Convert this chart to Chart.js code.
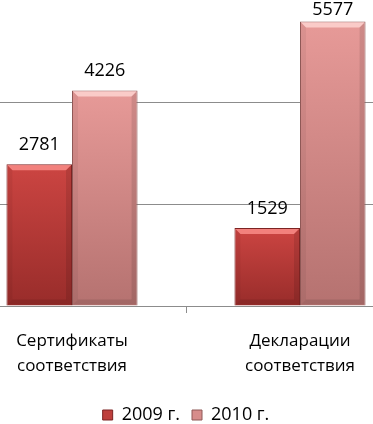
<!DOCTYPE html>
<html>
<head>
<meta charset="utf-8">
<script src="https://cdn.jsdelivr.net/npm/chart.js@4"></script>
<style>
  html, body { margin: 0; padding: 0; background: #fff; overflow: hidden; }
  #wrap { position: absolute; left: -42px; top: 0; width: 456px; height: 424px; }
</style>
</head>
<body>
<div id="wrap"><canvas id="chart-canvas"></canvas></div>
<script>
(function () {
  "use strict";

  var categories = [["Сертификаты", "соответствия"], ["Декларации", "соответствия"]];
  var seriesNames = ["2009 г.", "2010 г."];
  var values2009 = [2781, 1529];
  var values2010 = [4226, 5577];
  var yTicks = [0, 2000, 4000, 6000];

  var FONT = "'Open Sans', sans-serif";
  var PALETTE = {
    red:  { top: "#cc4542", bottom: "#982c2a", solid: "#be3f3c", edge: "#7c2322", light: "rgba(255,150,145,0.75)" },
    pink: { top: "#e79a98", bottom: "#b57270", solid: "#d78d8b", edge: "#8f5856", light: "rgba(255,215,212,0.8)" },
    grid: "#8c8c8c",
    ink: "#000000"
  };

  function gradFill(pal) {
    return function (c) {
      var chart = c.chart;
      if (!chart.chartArea || c.raw === undefined) return pal.solid;
      var y = chart.scales.y;
      var top = y.getPixelForValue(c.raw), bottom = y.getPixelForValue(0);
      var g = chart.ctx.createLinearGradient(0, top, 0, bottom);
      g.addColorStop(0, pal.top);
      g.addColorStop(1, pal.bottom);
      return g;
    };
  }

  // fake Excel bevel: light strip on top, darker sides and bottom
  var bevel = {
    id: "bevel",
    afterDatasetsDraw: function (chart) {
      var ctx = chart.ctx;
      var pals = [PALETTE.red, PALETTE.pink];
      chart.data.datasets.forEach(function (ds, di) {
        chart.getDatasetMeta(di).data.forEach(function (bar) {
          var l = bar.x - bar.width / 2, r = bar.x + bar.width / 2, t = bar.y, b = bar.base, d = 6;
          ctx.save();
          ctx.fillStyle = pals[di].light;
          ctx.beginPath();
          ctx.moveTo(l + 1, t + 1); ctx.lineTo(r - 1, t + 1); ctx.lineTo(r - d, t + d); ctx.lineTo(l + d, t + d);
          ctx.closePath(); ctx.fill();
          ctx.fillStyle = "rgba(0,0,0,0.10)";
          ctx.beginPath();
          ctx.moveTo(r - 1, t + 1); ctx.lineTo(r - d, t + d); ctx.lineTo(r - d, b - d); ctx.lineTo(r - 1, b - 1);
          ctx.closePath(); ctx.fill();
          ctx.beginPath();
          ctx.moveTo(l + 1, b - 1); ctx.lineTo(l + d, b - d); ctx.lineTo(r - d, b - d); ctx.lineTo(r - 1, b - 1);
          ctx.closePath(); ctx.fill();
          ctx.fillStyle = "rgba(0,0,0,0.05)";
          ctx.beginPath();
          ctx.moveTo(l + 1, t + 1); ctx.lineTo(l + d, t + d); ctx.lineTo(l + d, b - d); ctx.lineTo(l + 1, b - 1);
          ctx.closePath(); ctx.fill();
          ctx.restore();
        });
      });
    }
  };

  // value labels above bars, kept inside the canvas
  var valueLabels = {
    id: "valueLabels",
    afterDatasetsDraw: function (chart) {
      var ctx = chart.ctx;
      ctx.save();
      ctx.font = "18px " + FONT;
      ctx.fillStyle = PALETTE.ink;
      ctx.textAlign = "center";
      ctx.textBaseline = "alphabetic";
      chart.data.datasets.forEach(function (ds, di) {
        chart.getDatasetMeta(di).data.forEach(function (bar, i) {
          var y = Math.max(bar.y - 14, 15);
          ctx.fillText(String(ds.data[i]), bar.x, y);
        });
      });
      ctx.restore();
    }
  };

  new Chart(document.getElementById("chart-canvas").getContext("2d"), {
    type: "bar",
    data: {
      labels: categories,
      datasets: [
        { label: seriesNames[0], data: values2009, backgroundColor: gradFill(PALETTE.red), borderColor: PALETTE.red.edge, borderWidth: 1 },
        { label: seriesNames[1], data: values2010, backgroundColor: gradFill(PALETTE.pink), borderColor: PALETTE.pink.edge, borderWidth: 1 }
      ]
    },
    options: {
      responsive: true,
      maintainAspectRatio: false,
      animation: false,
      events: [],
      datasets: { bar: { categoryPercentage: 0.575, barPercentage: 1 } },
      layout: { padding: { top: -1, bottom: -10, left: 0, right: 0 } },
      plugins: {
        legend: {
          position: "bottom",
          labels: {
            color: PALETTE.ink,
            font: { family: FONT, size: 18 },
            boxWidth: 10, boxHeight: 10, padding: 12,
            generateLabels: function () {
              return [
                { text: seriesNames[0], fillStyle: PALETTE.red.solid, strokeStyle: PALETTE.red.edge, lineWidth: 1, datasetIndex: 0 },
                { text: seriesNames[1], fillStyle: PALETTE.pink.solid, strokeStyle: PALETTE.pink.edge, lineWidth: 1, datasetIndex: 1 }
              ];
            }
          }
        },
        tooltip: { enabled: false }
      },
      scales: {
        x: {
          afterFit: function (s) { s.height = 88; },
          grid: { offset: true, drawOnChartArea: false, tickLength: 7, color: PALETTE.grid },
          border: { color: PALETTE.grid },
          ticks: { color: PALETTE.ink, font: { family: FONT, size: 17, lineHeight: 1.45 }, padding: 16, maxRotation: 0 }
        },
        y: {
          min: 0, max: 6000,
          afterBuildTicks: function (s) { s.ticks = yTicks.map(function (v) { return { value: v }; }); },
          grid: {
            drawTicks: false,
            color: function (c) { return c.tick && c.tick.value === 6000 ? "rgba(0,0,0,0)" : PALETTE.grid; }
          },
          border: { display: false },
          ticks: { display: false }
        }
      }
    },
    plugins: [bevel, valueLabels]
  });
})();
</script>
</body>
</html>
